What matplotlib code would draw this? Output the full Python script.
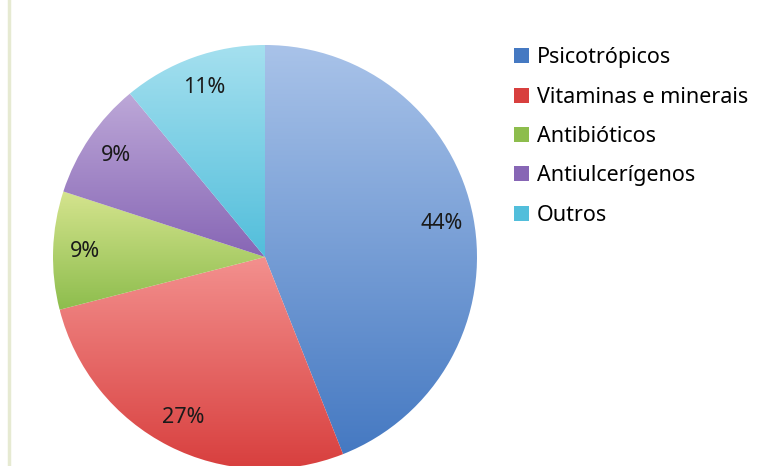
import numpy as np
import matplotlib.pyplot as plt
from matplotlib.colors import LinearSegmentedColormap
from matplotlib.lines import Line2D

# data
categories = ["Psicotrópicos", "Vitaminas e minerais", "Antibióticos",
              "Antiulcerígenos", "Outros"]
values = [44, 27, 9, 9, 11]
labels_pct = ["44%", "27%", "9%", "9%", "11%"]

# light (top) / dark (bottom) colour for each slice
top_colors = ["#A9C3E9", "#F3908E", "#D5E48E", "#BDA8D8", "#A5E0EF"]
bottom_colors = ["#4579C2", "#D83F3E", "#8DBD4D", "#8766B5", "#52BEDB"]

W, H = 767, 466
CX, CY, R = 265, 466 - 257, 212
FONT = "Noto Sans"
FS = 15.5

fig = plt.figure(figsize=(W / 100, H / 100), dpi=100)
ax = fig.add_axes([0, 0, 1, 1])

wedges, _ = ax.pie(values, startangle=90, counterclock=False,
                   center=(CX, CY), radius=R,
                   wedgeprops=dict(linewidth=0, edgecolor="none"))

# vertical gradient fill clipped to each wedge
grad = np.linspace(1, 0, 256).reshape(-1, 1)
for w, c_top, c_bot in zip(wedges, top_colors, bottom_colors):
    bb = w.get_path().get_extents()
    cmap = LinearSegmentedColormap.from_list("g", [c_bot, c_top])
    w.set_facecolor("none")
    im = ax.imshow(grad, cmap=cmap, aspect="auto", origin="upper",
                   extent=(bb.x0, bb.x1, bb.y0, bb.y1), zorder=1,
                   interpolation="bilinear")
    im.set_clip_path(w)
ax.set_xlim(0, W)
ax.set_ylim(0, H)
ax.set_aspect("equal")
ax.axis("off")

# percentage labels
total = sum(values)
angle = 90.0
for v, lab in zip(values, labels_pct):
    span = 360.0 * v / total
    mid = np.deg2rad(angle - span / 2)
    angle -= span
    d = 0.85 * R
    ax.text(CX + d * np.cos(mid), CY + d * np.sin(mid), lab,
            ha="center", va="center", fontsize=FS, color="#1a1a1a",
            family=FONT, zorder=3)

# legend
handles = [plt.Rectangle((0, 0), 1, 1, facecolor=c) for c in bottom_colors]
leg = fig.legend(handles, categories, loc="upper left",
                 bbox_to_anchor=(495 / W, 1 - 28 / H), frameon=False,
                 prop=dict(family=FONT, size=FS),
                 handlelength=0.7, handleheight=0.7, handletextpad=0.35,
                 labelspacing=0.85)

# pale border line on the left
fig.add_artist(Line2D([9 / W, 9 / W], [0, 1], color="#E6EAD2",
                      linewidth=2.5, transform=fig.transFigure))

fig.savefig("out.png", dpi=100, facecolor="white")
